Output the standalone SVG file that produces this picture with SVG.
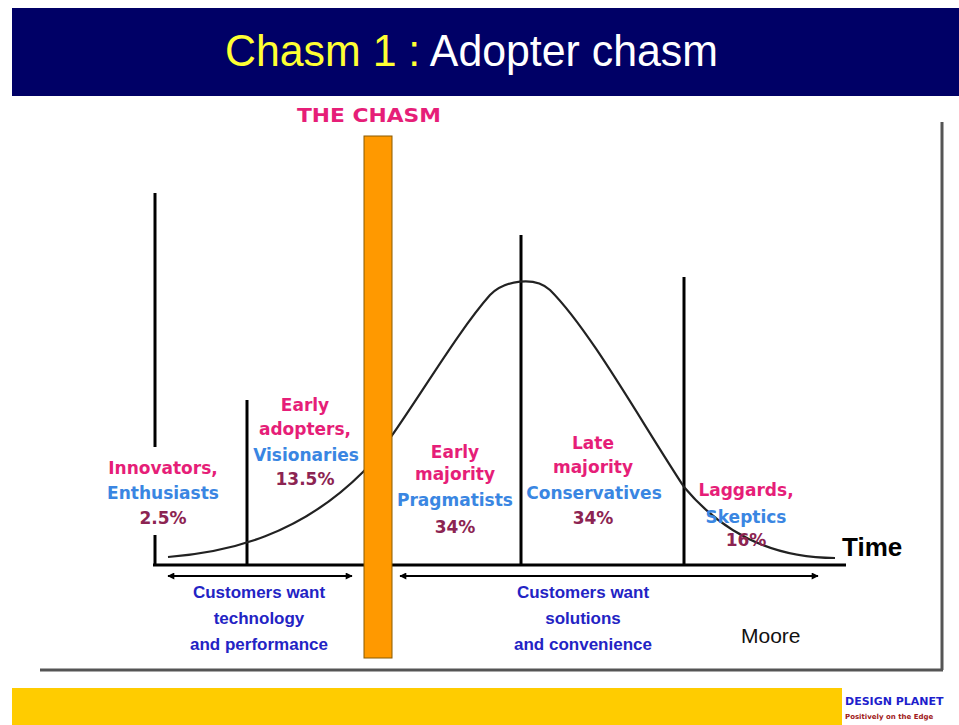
<svg xmlns="http://www.w3.org/2000/svg" width="959" height="725" viewBox="0 0 959 725">
  <defs>
    <marker id="ah" viewBox="0 0 10 10" refX="9" refY="5" markerWidth="9" markerHeight="7" markerUnits="userSpaceOnUse" orient="auto-start-reverse">
      <path d="M0,0 L10,5 L0,10 z" fill="#000"/>
    </marker>
  </defs>
  <style>
    .lbl { font-family: "DejaVu Sans", "Liberation Sans", sans-serif; font-weight: bold; font-size: 17px; text-anchor: middle; }
    .pink { fill: #E61E78; }
    .blue { fill: #3A86E2; }
    .pct { fill: #8C2452; }
    .cust { font-family: "Liberation Sans", Arial, sans-serif; font-weight: bold; font-size: 17px; fill: #2323C4; text-anchor: middle; }
    .vline { stroke: #000; stroke-width: 3; }
  </style>
  <rect width="959" height="725" fill="#fff"/>

  <g id="title">
    <rect x="12" y="8" width="947" height="88" fill="#000066"/>
    <text x="225" y="66" font-family="Liberation Sans, Arial, sans-serif" font-size="44" textLength="493" lengthAdjust="spacingAndGlyphs"><tspan fill="#FFFF33">Chasm 1 : </tspan><tspan fill="#FFFFFF">Adopter chasm</tspan></text>
  </g>

  <g id="frame">
    <line x1="942" y1="122" x2="942" y2="670" stroke="#555" stroke-width="3"/>
    <line x1="40" y1="670" x2="943" y2="670" stroke="#555" stroke-width="3"/>
  </g>

  <g id="axis">
    <line class="vline" x1="155" y1="193" x2="155" y2="447"/>
    <line class="vline" x1="155" y1="535" x2="155" y2="566"/>
    <line class="vline" x1="247" y1="400" x2="247" y2="566"/>
    <line class="vline" x1="521" y1="235" x2="521" y2="566"/>
    <line class="vline" x1="684" y1="277" x2="684" y2="566"/>
    <line x1="153" y1="565" x2="846" y2="565" stroke="#000" stroke-width="3"/>
    <text x="842" y="556" font-family="Liberation Sans, Arial, sans-serif" font-weight="bold" font-size="26" fill="#000">Time</text>
  </g>

  <g id="curve">
    <path d="M168,557 C230,552 300,535 363,472 C395,440 450,340 490,295 C505,280 535,276 550,290 C590,330 640,420 684,487 C720,530 770,558 835,558" fill="none" stroke="#222" stroke-width="2.2"/>
  </g>

  <g id="chasm">
    <text x="369" y="122" font-family="DejaVu Sans, Liberation Sans, sans-serif" font-weight="bold" font-size="19" fill="#E61E78" text-anchor="middle" textLength="144" lengthAdjust="spacingAndGlyphs">THE CHASM</text>
    <rect x="364" y="136" width="28" height="522" fill="#FF9900" stroke="#8A5A00" stroke-width="1"/>
  </g>

  <g id="innovators">
    <text class="lbl pink" x="163" y="474">Innovators,</text>
    <text class="lbl blue" x="163" y="499">Enthusiasts</text>
    <text class="lbl pct" x="163" y="524">2.5%</text>
  </g>

  <g id="early-adopters">
    <text class="lbl pink" x="305" y="411">Early</text>
    <text class="lbl pink" x="305" y="435">adopters,</text>
    <text class="lbl blue" x="306" y="461">Visionaries</text>
    <text class="lbl pct" x="305" y="485">13.5%</text>
  </g>

  <g id="early-majority">
    <text class="lbl pink" x="455" y="458">Early</text>
    <text class="lbl pink" x="455" y="480">majority</text>
    <text class="lbl blue" x="455" y="506">Pragmatists</text>
    <text class="lbl pct" x="455" y="533">34%</text>
  </g>

  <g id="late-majority">
    <text class="lbl pink" x="593" y="449">Late</text>
    <text class="lbl pink" x="593" y="473">majority</text>
    <text class="lbl blue" x="594" y="499">Conservatives</text>
    <text class="lbl pct" x="593" y="524">34%</text>
  </g>

  <g id="laggards">
    <text class="lbl pink" x="746" y="496">Laggards,</text>
    <text class="lbl blue" x="746" y="523">Skeptics</text>
    <text class="lbl pct" x="746" y="546">16%</text>
  </g>

  <g id="connectors">
    <line x1="168" y1="576" x2="352" y2="576" stroke="#000" stroke-width="2" marker-start="url(#ah)" marker-end="url(#ah)"/>
    <line x1="400" y1="576" x2="818" y2="576" stroke="#000" stroke-width="2" marker-start="url(#ah)" marker-end="url(#ah)"/>
  </g>

  <g id="tech-customers">
    <text class="cust" x="259" y="598">Customers want</text>
    <text class="cust" x="259" y="624">technology</text>
    <text class="cust" x="259" y="650">and performance</text>
  </g>

  <g id="solution-customers">
    <text class="cust" x="583" y="598">Customers want</text>
    <text class="cust" x="583" y="624">solutions</text>
    <text class="cust" x="583" y="650">and convenience</text>
  </g>

  <g id="moore">
    <text x="741" y="643" font-family="Liberation Sans, Arial, sans-serif" font-size="21" fill="#111">Moore</text>
  </g>

  <g id="footer">
    <rect x="12" y="688" width="830" height="37" fill="#FFCC00"/>
    <text x="845" y="705" font-family="DejaVu Sans, Verdana, sans-serif" font-weight="bold" font-size="11" fill="#1E1ECC">DESIGN PLANET</text>
    <text x="845" y="719" font-family="DejaVu Sans, Verdana, sans-serif" font-weight="bold" font-size="7" fill="#A01818">Positively on the Edge</text>
  </g>
</svg>
